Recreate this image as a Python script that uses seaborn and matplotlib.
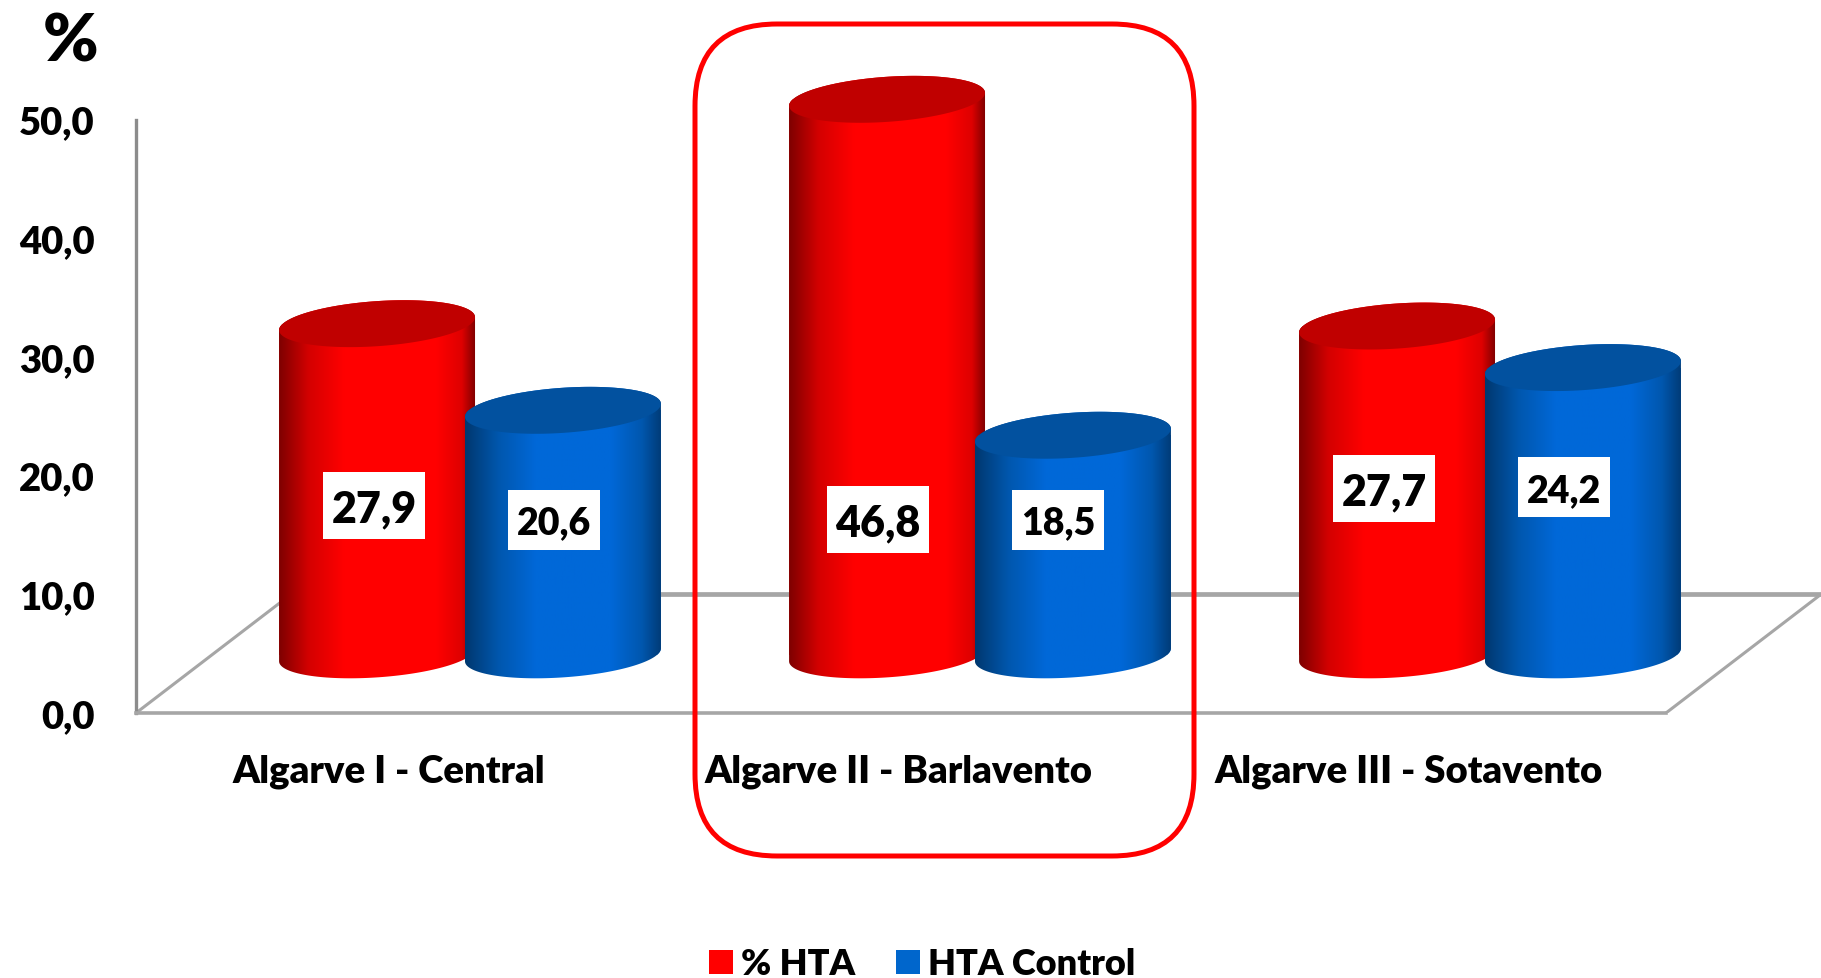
import numpy as np
import pandas as pd
import seaborn as sns
import matplotlib.pyplot as plt
from matplotlib.colors import LinearSegmentedColormap
from matplotlib.patches import FancyBboxPatch, Patch, Polygon, Rectangle
from matplotlib.transforms import IdentityTransform

regions = ["Algarve I - Central", "Algarve II - Barlavento", "Algarve III - Sotavento"]
series_names = ["% HTA", "HTA Control"]
series_colors = ["#FF0000", "#0066CC"]
hta_values = [27.9, 46.8, 27.7]
control_values = [20.6, 18.5, 24.2]
value_labels = [["27,9", "46,8", "27,7"], ["20,6", "18,5", "24,2"]]
ytick_values = [0, 10, 20, 30, 40, 50]
ytick_labels = ["0,0", "10,0", "20,0", "30,0", "40,0", "50,0"]

# where the white value boxes sit: height on the y axis, shift from bar centre in px
label_heights = [[17.5, 16.3, 18.95], [16.3, 16.3, 19.05]]
label_shifts = [[-3, -9, -13], [-9, -15, -19]]
label_sizes = [31, 27]
box_sizes = [(102, 67), (92, 60)]

W, H = 1821, 979
AXIS_LEFT, AXIS_BOTTOM = 136, 714
PX_PER_Y = 11.87
PX_PER_GROUP = 510
GROUP0_PX = 470
BAR_BASE = 4.9       # cylinders stand on the floor, above the y=0 edge
FLOOR_DEPTH = 0.304
A, B, TILT = 98.2, 22.5, np.radians(4)
WEIGHT = "heavy"

sns.set_theme(style="white")
plt.rcParams["font.family"] = ["Lato", "DejaVu Sans"]
plt.rcParams["font.weight"] = WEIGHT

df = pd.DataFrame({
    "region": regions * 2,
    "serie": [series_names[0]] * 3 + [series_names[1]] * 3,
    "value": hta_values + control_values,
})

fig = plt.figure(figsize=(W / 100, H / 100), dpi=100)
ax = fig.add_axes([AXIS_LEFT / W, (H - AXIS_BOTTOM) / H, 1 - AXIS_LEFT / W, AXIS_BOTTOM / H])

sns.barplot(
    data=df, x="region", y="value", hue="serie", palette=series_colors,
    saturation=1, width=0.729, gap=-0.054, bottom=BAR_BASE, ax=ax, linewidth=0, legend=False,
)
xlim = ((AXIS_LEFT - GROUP0_PX) / PX_PER_GROUP, (W - GROUP0_PX) / PX_PER_GROUP)
ylim = (0, AXIS_BOTTOM / PX_PER_Y)


def arc(cx, cy, t):
    dx = A * np.cos(t) * np.cos(TILT) - B * np.sin(t) * np.sin(TILT)
    dy = A * np.cos(t) * np.sin(TILT) + B * np.sin(t) * np.cos(TILT)
    return np.column_stack([cx + dx / PX_PER_GROUP, cy + dy / PX_PER_Y])


gradients = [
    LinearSegmentedColormap.from_list("reds", [(0, "#7E0000"), (0.15, "#D40000"), (0.33, "#FF0000"),
                                               (0.8, "#FF0000"), (0.93, "#DE0000"), (1, "#7E0000")]),
    LinearSegmentedColormap.from_list("blues", [(0, "#00386F"), (0.17, "#0057AE"), (0.36, "#0068D8"),
                                                (0.74, "#0068D8"), (0.9, "#0057AE"), (1, "#003A75")]),
]
top_colors = ["#C00000", "#02519F"]
t_right = np.arctan2(-B * np.sin(TILT), A * np.cos(TILT))

for s, container in enumerate(ax.containers):
    z = 3 + s
    box_w, box_h = box_sizes[s]
    for i, bar in enumerate(container.patches):
        cx = bar.get_x() + bar.get_width() / 2
        top = bar.get_y() + bar.get_height()
        lower = arc(cx, BAR_BASE, np.linspace(t_right - np.pi, t_right, 80))
        upper = arc(cx, top, np.linspace(t_right, t_right + np.pi, 80))
        body = Polygon(np.vstack([lower, upper]), closed=True, transform=ax.transData)
        bar.set_clip_path(body)
        bar.set_zorder(z)
        left, right = cx - A / PX_PER_GROUP, cx + A / PX_PER_GROUP
        im = ax.imshow(np.linspace(0, 1, 256)[None, :], extent=(left, right, 0, top + 3), aspect="auto",
                       cmap=gradients[s], zorder=z, interpolation="bilinear")
        im.set_clip_path(body)
        ax.add_patch(Polygon(arc(cx, top, np.linspace(0, 2 * np.pi, 120)), closed=True,
                             facecolor=top_colors[s], edgecolor="none", zorder=z + 0.1))
        # white box, then the value on it
        box_x = cx + label_shifts[s][i] / PX_PER_GROUP
        box_y = label_heights[s][i]
        ax.add_patch(Rectangle((box_x - box_w / 2 / PX_PER_GROUP, box_y - box_h / 2 / PX_PER_Y),
                               box_w / PX_PER_GROUP, box_h / PX_PER_Y,
                               facecolor="white", edgecolor="none", zorder=7))
        ax.annotate(value_labels[s][i], xy=(box_x, box_y), xytext=(0, -3),
                    textcoords="offset pixels", ha="center", va="center", fontsize=label_sizes[s],
                    fontweight=WEIGHT, color="black", zorder=8)

ax.set_xlim(xlim)
ax.set_ylim(ylim)

# floor of the 3D chart
grey = "#A6A6A6"
ax.plot([xlim[0] + FLOOR_DEPTH, xlim[1]], [10, 10], color=grey, lw=3.4, zorder=1, solid_capstyle="butt")
ax.plot([xlim[0], xlim[0] + FLOOR_DEPTH], [0, 10], color=grey, lw=2.2, zorder=1)
ax.plot([xlim[1] - FLOOR_DEPTH, xlim[1]], [0, 10], color=grey, lw=2.2, zorder=1)

sns.despine(ax=ax)
ax.spines["left"].set_bounds(0, 50)
ax.spines["left"].set_color("#8C8C8C")
ax.spines["left"].set_linewidth(2.4)
ax.spines["bottom"].set_bounds(xlim[0], xlim[1] - FLOOR_DEPTH)
ax.spines["bottom"].set_color(grey)
ax.spines["bottom"].set_linewidth(2.6)

ax.set_xlabel("")
ax.set_ylabel("")
ax.set_yticks(ytick_values, ytick_labels)
ax.set_xticks(np.arange(3) - 0.16, regions)
ax.tick_params(axis="y", length=0, pad=30, labelsize=27.5, labelcolor="black")
ax.tick_params(axis="x", length=0, pad=29, labelsize=27.5, labelcolor="black")
for lab in ax.get_xticklabels() + ax.get_yticklabels():
    lab.set_fontweight(WEIGHT)

handles = [Patch(facecolor=c, edgecolor="none") for c in series_colors]
ax.legend(handles, series_names, loc="center", bbox_to_anchor=(922 / W, (H - 965) / H),
          bbox_transform=fig.transFigure, ncol=2, frameon=False, fontsize=26,
          handlelength=0.665, handleheight=0.665, handletextpad=0.22, columnspacing=1.15,
          labelcolor="black")

fig.text(71 / W, 1 - 42 / H, "%", ha="center", va="center", fontsize=48, fontweight=WEIGHT, color="black")

# highlight round the Barlavento group
fig.add_artist(FancyBboxPatch((695, H - 857), 499, 832, boxstyle="round,pad=0,rounding_size=82",
                              transform=IdentityTransform(), facecolor="none", edgecolor="#FF0000",
                              linewidth=3.6, zorder=10))

fig.savefig("out.png", dpi=100)
